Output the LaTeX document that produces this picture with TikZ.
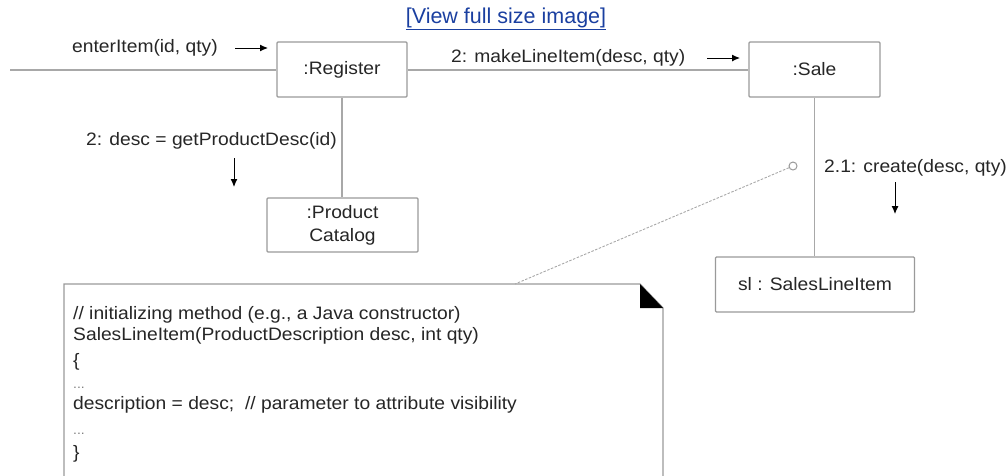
\documentclass[tikz,border=0pt]{standalone}
\usepackage{fontspec}
\usepackage{graphicx}
\setmainfont{Liberation Sans}
\usetikzlibrary{arrows.meta}
\definecolor{linegray}{HTML}{A8A8A8}
\definecolor{boxgray}{HTML}{9A9A9A}
\definecolor{txt}{HTML}{262626}
\definecolor{linkblue}{HTML}{1A3FA0}
\newcommand\hs[1]{\scalebox{1.07}[1]{#1}}
\tikzset{
  obj/.style={draw=boxgray, line width=1.3pt, rounded corners=1pt, fill=white, inner sep=0pt, text=txt, font=\fontsize{18}{21}\selectfont, align=center},
  wire/.style={draw=linegray, line width=1.5pt},
  msg/.style={draw=black, line width=1pt, -{Latex[length=8pt,width=7pt]}},
  lbl/.style={inner sep=0pt, text=txt, font=\fontsize{18}{21}\selectfont, anchor=base west},
  code/.style={inner sep=0pt, text=txt, font=\fontsize{18}{21}\selectfont, anchor=base west},
}
\begin{document}
\begin{tikzpicture}[x=1pt,y=-1pt]
\useasboundingbox (0,0) rectangle (1008,475);
% link
\node[inner sep=0pt, text=linkblue, font=\fontsize{21.5}{24}\selectfont] (link) at (506,19) {\underline{[View full size image]}};
% objects
\node[obj, minimum width=130pt, minimum height=55pt] (reg) at (342,69.5) {\hs{:Register}};
\node[obj, minimum width=131pt, minimum height=55pt] (sale) at (814.5,69.5) {\hs{:Sale}};
\node[obj, minimum width=151pt, minimum height=54pt] (pc) at (342.5,225) {\hs{:Product}\\[2pt]\hs{Catalog}};
\node[obj, minimum width=199pt, minimum height=55pt] (sli) at (815,284.5) {\hs{sl : SalesLineItem}};
% links
\coordinate (lft) at (10,70);
\draw[wire] (lft) -- (lft -| reg.west);
\draw[wire] (reg.east |- lft) -- (sale.west |- lft);
\draw[wire] (reg.south) -- (reg.south |- pc.north);
\draw[wire] (sale.south) -- (sale.south |- sli.north);
% messages
\node[lbl] (m1) at (72,52) {\hs{enterItem(id, qty)}};
\node[lbl] (m2) at (451,62) {\hs{2: makeLineItem(desc, qty)}};
\node[lbl] (m3) at (86,145) {\hs{2: desc = getProductDesc(id)}};
\node[lbl] (m4) at (824,172) {\hs{2.1: create(desc, qty)}};
\coordinate (a1s) at (235,48); \coordinate (a1e) at (268,48);
\coordinate (a2s) at (707,58); \coordinate (a2e) at (740,58);
\coordinate (a3s) at (234,158); \coordinate (a3e) at (234,187);
\coordinate (a4s) at (895,182); \coordinate (a4e) at (895,214);
\draw[msg] (a1s) -- (a1e);
\draw[msg] (a2s) -- (a2e);
\draw[msg] (a3s) -- (a3e);
\draw[msg] (a4s) -- (a4e);
% note
\coordinate (n1) at (64,480);
\coordinate (n2) at (64,284);
\coordinate (n3) at (640,284);
\coordinate (n4) at (663,308);
\coordinate (n5) at (663,480);
\coordinate (n6) at (640,308);
\draw[draw=boxgray, line width=1.3pt, fill=white] (n1) -- (n2) -- (n3) -- (n4) -- (n5);
\fill[black] (n3) -- (n4) -- (n6) -- cycle;
\node[circle, draw=boxgray, line width=1pt, minimum size=8pt, inner sep=0pt, fill=white] (anc) at (793,166) {};
\coordinate (nt) at (515,284);
\draw[draw=linegray, line width=0.9pt, dash pattern=on 2.5pt off 1.5pt] (anc) -- (nt);
\node[code] (c1) at (73,319) {\hs{// initializing method (e.g., a Java constructor)}};
\node[code] (c2) at (73,340) {\hs{SalesLineItem(ProductDescription desc, int qty)}};
\node[code] (c3) at (73,366) {\hs{\{}};
\node[code, text=gray, font=\fontsize{13}{15}\selectfont] (c4) at (73,388) {\hs{...}};
\node[code] (c5) at (73,409) {\hs{description = desc;\ \ // parameter to attribute visibility}};
\node[code, text=gray, font=\fontsize{13}{15}\selectfont] (c6) at (73,434) {\hs{...}};
\node[code] (c7) at (73,458) {\hs{\}}};
\end{tikzpicture}
\end{document}
